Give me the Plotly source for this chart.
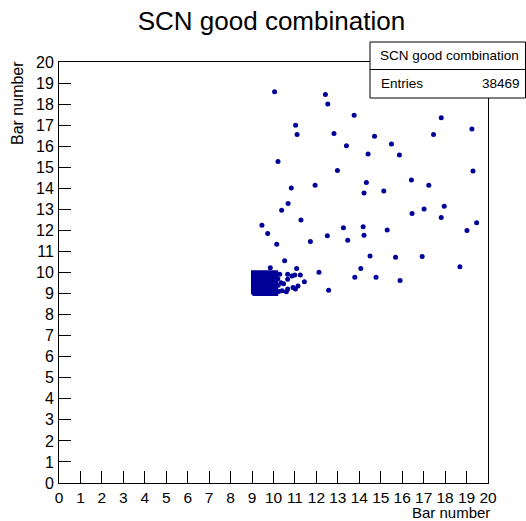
import plotly.graph_objects as go

TITLE = "SCN good combination"
ENTRIES = 38469
AXIS_LABEL = "Bar number"
TICKS = list(range(0, 21))

# densely populated bin drawn as a solid block: [x0, x1, y0, y1]
cluster_box = [9.02, 10.15, 8.96, 10.03]

# isolated entries
pts_x = [10.05, 12.42, 12.53, 13.76, 17.82, 11.03, 11.10, 12.82, 17.46, 19.25,
         14.71, 13.40, 15.50, 14.41, 15.87, 10.21, 19.30, 12.98, 16.43, 14.33,
         11.94, 17.24, 10.83, 14.22, 15.14, 10.68, 10.38, 17.96, 17.02, 16.46,
         17.82, 11.28, 19.47, 9.46, 19.02, 13.26, 14.18, 15.30, 9.73, 12.51,
         14.22, 11.72, 13.46, 10.15, 10.52, 14.50, 15.69, 16.93, 18.69, 12.12,
         14.07, 13.79, 14.78, 15.90, 12.57, 9.85, 11.08,
         10.66, 10.86, 10.99, 11.25, 10.29, 10.66, 11.44, 10.35, 10.47, 10.66,
         10.91, 11.02, 11.14, 10.60, 10.40, 10.20, 10.22, 10.24]
pts_y = [18.59, 18.46, 18.00, 17.47, 17.35, 17.00, 16.55, 16.60, 16.55, 16.82,
         16.47, 16.02, 16.10, 15.63, 15.58, 15.27, 14.82, 14.85, 14.39, 14.28,
         14.14, 14.14, 14.01, 13.78, 13.87, 13.28, 12.96, 13.15, 13.02, 12.80,
         12.61, 12.50, 12.36, 12.25, 11.99, 12.12, 12.17, 12.02, 11.85, 11.74,
         11.77, 11.47, 11.53, 11.34, 10.56, 10.78, 10.73, 10.76, 10.27, 10.01,
         10.19, 9.78, 9.78, 9.62, 9.16, 10.23, 10.19,
         9.92, 9.83, 9.88, 9.88, 9.92, 9.68, 9.56, 9.51, 9.46, 9.22,
         9.29, 9.22, 9.36, 9.09, 9.13, 9.70, 9.40, 9.10]

MARK = "#000099"
FONT = "Liberation Sans, Arial, Helvetica, sans-serif"

fig = go.Figure()

x0, x1, y0, y1 = cluster_box
fig.add_trace(go.Scatter(
    x=[x0, x1, x1, x0, x0], y=[y0, y0, y1, y1, y0],
    mode="lines", fill="toself", fillcolor=MARK,
    line=dict(color=MARK, width=3), hoverinfo="skip", showlegend=False))

fig.add_trace(go.Scatter(
    x=pts_x, y=pts_y, mode="markers",
    marker=dict(color=MARK, size=5, line=dict(width=0)),
    showlegend=False))

axis_common = dict(
    range=[0, 20], tickvals=TICKS, ticktext=[str(t) for t in TICKS],
    ticks="inside", ticklen=12, tickwidth=1, tickcolor="black",
    showline=True, linecolor="black", linewidth=1, mirror=True,
    showgrid=False, zeroline=False,
)

fig.update_xaxes(**axis_common, ticklabelstandoff=0,
                 tickfont=dict(family=FONT, size=15.5, color="black"))
fig.update_yaxes(**axis_common, ticklabelstandoff=1,
                 tickfont=dict(family=FONT, size=16, color="black"))

fig.update_layout(
    width=526, height=521,
    margin=dict(l=59, r=38, t=62, b=38),
    paper_bgcolor="white", plot_bgcolor="white",
    font=dict(family=FONT, color="black"),
    showlegend=False,
    title=dict(text=TITLE, x=0.516, xanchor="center", y=0.96, yanchor="middle",
               font=dict(family=FONT, size=26, color="black")),
    shapes=[
        dict(type="rect", xref="paper", yref="paper",
             x0=(370 - 59) / 429, x1=(525.5 - 59) / 429,
             y0=(483 - 98) / 421, y1=(483 - 42) / 421,
             line=dict(color="black", width=1), fillcolor="white", layer="above"),
        dict(type="line", xref="paper", yref="paper",
             x0=(370 - 59) / 429, x1=(525.5 - 59) / 429,
             y0=(483 - 69.5) / 421, y1=(483 - 69.5) / 421,
             line=dict(color="black", width=1), layer="above"),
    ],
    annotations=[
        dict(text=TITLE, xref="paper", yref="paper",
             x=(449 - 59) / 429, y=(483 - 56) / 421, xanchor="center", yanchor="middle",
             showarrow=False, font=dict(family=FONT, size=13.5, color="black")),
        dict(text="Entries", xref="paper", yref="paper",
             x=(379 - 59) / 429, y=(483 - 84) / 421, xanchor="left", yanchor="middle",
             showarrow=False, font=dict(family=FONT, size=13.5, color="black")),
        dict(text=str(ENTRIES), xref="paper", yref="paper",
             x=(522 - 59) / 429, y=(483 - 84) / 421, xanchor="right", yanchor="middle",
             showarrow=False, font=dict(family=FONT, size=13.5, color="black")),
        dict(text=AXIS_LABEL, xref="paper", yref="paper",
             x=(491 - 59) / 429, y=(483 - 512.5) / 421, xanchor="right", yanchor="middle",
             showarrow=False, borderpad=0,
             font=dict(family=FONT, size=15, color="black")),
        dict(text=AXIS_LABEL, xref="paper", yref="paper",
             x=(17 - 59) / 429, y=(483 - 59) / 421, xanchor="center", yanchor="top",
             textangle=-90, showarrow=False,
             font=dict(family=FONT, size=16, color="black")),
    ],
)

fig.write_html("out.html")
